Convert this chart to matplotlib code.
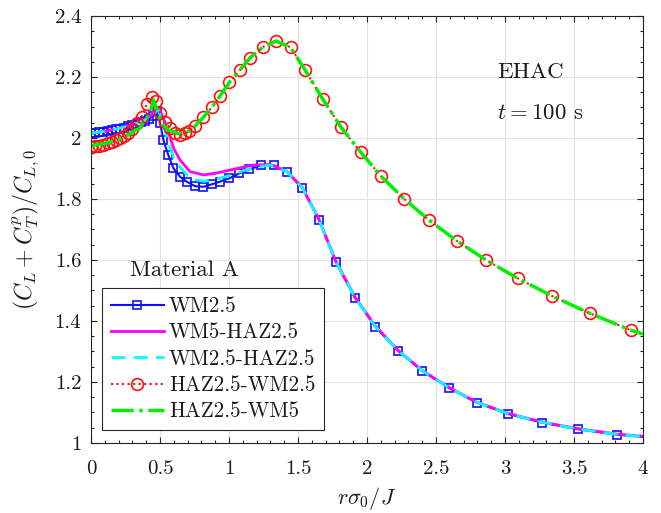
import matplotlib
matplotlib.use('Agg')
import matplotlib.pyplot as plt
from matplotlib.ticker import MultipleLocator

plt.rcParams['font.family'] = 'cmr10'
plt.rcParams['mathtext.fontset'] = 'cm'
plt.rcParams['axes.formatter.use_mathtext'] = True

# WM2.5 (blue squares)
wm25_x = [0, 0.03, 0.06, 0.09, 0.12, 0.15, 0.18, 0.21, 0.24, 0.27, 0.30, 0.33, 0.36, 0.39,
          0.42, 0.45, 0.475, 0.50, 0.525, 0.56, 0.597, 0.645, 0.693, 0.754, 0.814, 0.874,
          0.935, 1.002, 1.075, 1.147, 1.23, 1.326, 1.422, 1.531, 1.652, 1.775, 1.915, 2.06,
          2.225, 2.40, 2.595, 2.795, 3.024, 3.266, 3.527, 3.814, 4.0]
wm25_y = [2.017, 2.018, 2.019, 2.021, 2.023, 2.025, 2.028, 2.031, 2.034, 2.038, 2.042, 2.047,
          2.052, 2.057, 2.063, 2.072, 2.088, 2.05, 1.993, 1.944, 1.901, 1.873, 1.857, 1.842,
          1.840, 1.848, 1.857, 1.868, 1.884, 1.897, 1.910, 1.910, 1.888, 1.835, 1.731, 1.592,
          1.474, 1.381, 1.302, 1.236, 1.180, 1.132, 1.095, 1.067, 1.045, 1.027, 1.020]

# WM5-HAZ2.5 (magenta)
wm5haz_x = [0, 0.1, 0.2, 0.3, 0.38, 0.43, 0.47, 0.49, 0.52, 0.55, 0.572, 0.6, 0.645, 0.717,
            0.814, 0.9, 1.007, 1.1, 1.176, 1.3, 1.422, 1.531, 1.652, 1.775, 1.915, 2.06, 2.225,
            2.40, 2.595, 2.795, 3.024, 3.266, 3.527, 3.814, 4.0]
wm5haz_y = [2.015, 2.022, 2.032, 2.045, 2.058, 2.072, 2.095, 2.10, 2.07, 2.03, 2.004, 1.965,
            1.928, 1.89, 1.879, 1.884, 1.895, 1.904, 1.911, 1.913, 1.89, 1.838, 1.734, 1.595,
            1.477, 1.384, 1.304, 1.238, 1.182, 1.134, 1.097, 1.069, 1.047, 1.029, 1.022]

# WM2.5-HAZ2.5 (cyan)
wm25haz_x = [0, 0.1, 0.2, 0.3, 0.38, 0.43, 0.46, 0.485, 0.52, 0.56, 0.6, 0.645, 0.7, 0.76,
             0.82, 0.9, 1.0, 1.1, 1.2, 1.3, 1.422, 1.531, 1.652, 1.775, 1.915, 2.06, 2.225,
             2.40, 2.595, 2.795, 3.024, 3.266, 3.527, 3.814, 4.0]
wm25haz_y = [2.016, 2.022, 2.031, 2.043, 2.056, 2.068, 2.08, 2.095, 2.05, 1.985, 1.935, 1.905,
             1.877, 1.863, 1.858, 1.864, 1.876, 1.892, 1.905, 1.911, 1.889, 1.836, 1.732,
             1.593, 1.475, 1.382, 1.303, 1.237, 1.181, 1.133, 1.096, 1.068, 1.046, 1.028, 1.021]

# shared tail of the two HAZ2.5 curves
haz_tail_x = [0.712, 0.754, 0.814, 0.875, 0.935, 1.002, 1.08, 1.152, 1.249, 1.341, 1.447,
              1.551, 1.679, 1.809, 1.955, 2.101, 2.270, 2.449, 2.650, 2.862, 3.092, 3.341,
              3.616, 3.911, 4.0]
haz_tail_y = [2.023, 2.039, 2.068, 2.100, 2.138, 2.182, 2.223, 2.263, 2.299, 2.318, 2.297,
              2.223, 2.128, 2.037, 1.953, 1.875, 1.800, 1.731, 1.663, 1.600, 1.540, 1.482,
              1.425, 1.370, 1.357]

# HAZ2.5-WM2.5 (red circles)
haz25_x = [0, 0.03, 0.06, 0.09, 0.12, 0.15, 0.18, 0.21, 0.24, 0.27, 0.295, 0.331, 0.367,
           0.403, 0.44, 0.47, 0.50, 0.536, 0.572, 0.609, 0.645, 0.68] + haz_tail_x
haz25_y = [1.972, 1.973, 1.975, 1.978, 1.982, 1.987, 1.993, 2.0, 2.008, 2.017, 2.028, 2.048,
           2.07, 2.11, 2.133, 2.12, 2.081, 2.053, 2.033, 2.015, 2.01, 2.015] + haz_tail_y

# HAZ2.5-WM5 (green)
haz5_x = [0, 0.1, 0.2, 0.27, 0.32, 0.35, 0.37, 0.39, 0.41, 0.43, 0.452, 0.48, 0.512, 0.56,
          0.633, 0.68] + haz_tail_x
haz5_y = [1.975, 1.982, 1.995, 2.01, 2.026, 2.03, 2.045, 2.055, 2.07, 2.085, 2.125, 2.09,
          2.048, 2.026, 2.015, 2.017] + haz_tail_y

txt = '#1a1a1a'

fig = plt.figure(figsize=(6.61, 5.13), dpi=100)
ax = fig.add_axes([0.1377, 0.1365, 0.835, 0.8323])

ax.plot(wm25_x, wm25_y, '-s', color='#1010ff', lw=1.5, ms=6, mfc='none', mew=1.2,
        markevery=list(range(len(wm25_x) - 1)), label='WM2.5')
ax.plot(wm5haz_x, wm5haz_y, '-', color='#ff00ff', lw=2, label='WM5-HAZ2.5')
ax.plot(wm25haz_x, wm25haz_y, '--', color='#00ffff', lw=2, dashes=(5, 3), label='WM2.5-HAZ2.5')
ax.plot(haz25_x, haz25_y, ':o', color='#ff1010', lw=1.5, ms=8.5, mfc='none', mew=1.2,
        markevery=list(range(len(haz25_x) - 1)), label='HAZ2.5-WM2.5')
ax.plot(haz5_x, haz5_y, '-.', color='#00ee00', lw=2.5, label='HAZ2.5-WM5')

ax.set_xlim(0, 4)
ax.set_ylim(1, 2.4)
ax.set_xticks([0, 0.5, 1, 1.5, 2, 2.5, 3, 3.5, 4])
ax.set_xticklabels(['0', '0.5', '1', '1.5', '2', '2.5', '3', '3.5', '4'])
ax.set_yticks([1, 1.2, 1.4, 1.6, 1.8, 2, 2.2, 2.4])
ax.set_yticklabels(['1', '1.2', '1.4', '1.6', '1.8', '2', '2.2', '2.4'])
ax.xaxis.set_minor_locator(MultipleLocator(0.1))
ax.yaxis.set_minor_locator(MultipleLocator(0.05))
ax.tick_params(which='both', direction='in', top=True, right=True, colors='#262626',
               labelsize=15, labelcolor=txt)
ax.tick_params(which='major', length=4.5, width=0.8)
ax.tick_params(which='minor', length=2.5, width=0.8)
ax.tick_params(axis='x', which='major', pad=12)
ax.tick_params(axis='y', which='major', pad=7)
for s in ax.spines.values():
    s.set_color('#262626')
    s.set_linewidth(0.8)
ax.grid(True, which='major', color='#e3e3e3', lw=0.8)
ax.set_axisbelow(True)

ax.set_xlabel(r'$r\sigma_0/J$', fontsize=16, color=txt, labelpad=5)
ax.set_ylabel(r'$(C_L + C_T^p)/C_{L,0}$', fontsize=17, color=txt, labelpad=10)

ax.text(0.071, 0.405, 'Material A', transform=ax.transAxes, fontsize=16.5,
        ha='left', va='center', color=txt)
ax.text(0.7355, 0.869, 'EHAC', transform=ax.transAxes, fontsize=16.5,
        ha='left', va='center', color=txt)
ax.text(0.7355, 0.773, r'$t = 100$ s', transform=ax.transAxes, fontsize=16.5,
        ha='left', va='center', color=txt)

leg = ax.legend(loc='lower left', bbox_to_anchor=(0.02, 0.03), borderaxespad=0,
                fontsize=15.2, handlelength=2.5, handletextpad=0.25, labelspacing=0.32,
                borderpad=0.42, fancybox=False, framealpha=1, edgecolor='#262626')
leg.get_frame().set_linewidth(0.8)
for t in leg.get_texts():
    t.set_color(txt)

fig.savefig('out.png', dpi=100)
